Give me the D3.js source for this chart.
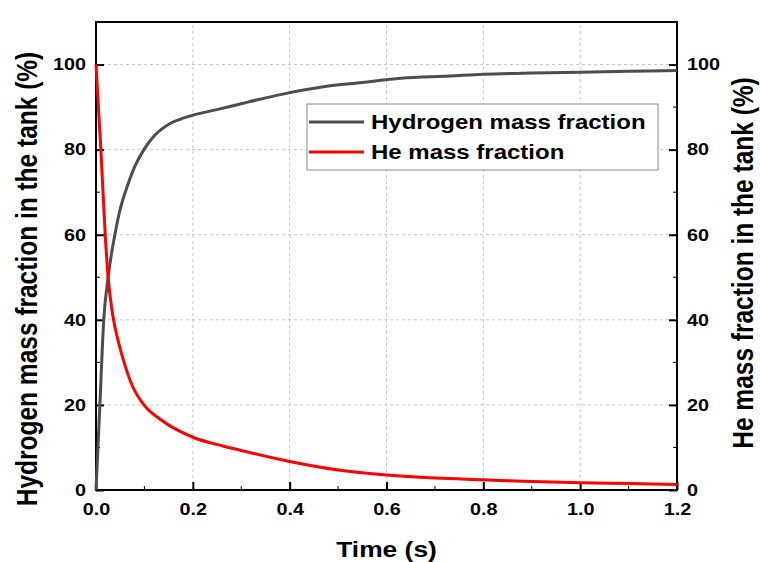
<!DOCTYPE html>
<html>
<head>
<meta charset="utf-8">
<script src="https://cdn.jsdelivr.net/npm/d3@7"></script>
<style>
  body { margin: 0; background: #fff; }
  svg text { font-family: "Liberation Sans", Arial, sans-serif; font-weight: bold; fill: #000; }
</style>
</head>
<body>
<div id="chart"></div>
<script>
// data
const h2Time  = [0, 0.008, 0.016, 0.025, 0.039, 0.05, 0.065, 0.08, 0.099, 0.12, 0.154, 0.18, 0.2, 0.25, 0.3, 0.4, 0.47, 0.55, 0.63, 0.73, 0.8, 0.9, 1.0, 1.1, 1.2];
const h2Value = [0, 20, 40, 50, 60, 66, 71.5, 76, 80, 83.2, 86.2, 87.4, 88.1, 89.4, 90.8, 93.4, 94.8, 95.8, 96.8, 97.3, 97.7, 98, 98.2, 98.4, 98.6];
const heTime  = [0, 0.005, 0.01, 0.0145, 0.019, 0.025, 0.034, 0.047, 0.058, 0.075, 0.099, 0.134, 0.2, 0.264, 0.3, 0.4, 0.5, 0.6, 0.7, 0.8, 0.9, 1.0, 1.1, 1.2];
const heValue = [100, 90, 80, 70, 60, 50, 41.5, 34.5, 30, 24.5, 20, 16.5, 12.4, 10.3, 9.3, 6.7, 4.7, 3.5, 2.8, 2.4, 2.0, 1.7, 1.5, 1.3];
const xTicks = [0, 0.2, 0.4, 0.6, 0.8, 1.0, 1.2];
const yTicks = [0, 20, 40, 60, 80, 100];
const seriesNames = ["Hydrogen mass fraction", "He mass fraction"];
const seriesColors = ["#4d4d4d", "#ff0000"];

const width = 760, height = 562;
const margin = { top: 22, right: 83, bottom: 72, left: 96 };
const stretch = 1.2; // text in the reference is wider than it is tall

const svg = d3.select("#chart").append("svg")
  .attr("width", width)
  .attr("height", height);

const x = d3.scaleLinear().domain([0, 1.2]).range([margin.left, width - margin.right]);
const y = d3.scaleLinear().domain([0, 110]).range([height - margin.bottom, margin.top]);

// grid
const grid = svg.append("g").attr("stroke", "#c6c6c6").attr("stroke-dasharray", "3,3").attr("stroke-width", 1);
grid.selectAll(".gx").data(xTicks.slice(1, -1)).enter().append("line")
  .attr("x1", d => x(d)).attr("x2", d => x(d))
  .attr("y1", y(0)).attr("y2", y(110));
grid.selectAll(".gy").data(yTicks.slice(1)).enter().append("line")
  .attr("x1", x(0)).attr("x2", x(1.2))
  .attr("y1", d => y(d)).attr("y2", d => y(d));

// axes (ticks pointing inward)
const xMinor = d3.range(0.1, 1.2, 0.2);
const yMinor = d3.range(10, 110, 20);

const xAxis = svg.append("g")
  .attr("transform", `translate(0,${y(0)})`)
  .call(d3.axisBottom(x).tickValues(xTicks).tickFormat(d3.format(".1f")).tickSizeInner(-8).tickSizeOuter(0).tickPadding(13));
xAxis.append("g").selectAll("line").data(xMinor).enter().append("line")
  .attr("x1", d => x(d)).attr("x2", d => x(d)).attr("y1", 0).attr("y2", -4).attr("stroke", "#000");

const yAxisL = svg.append("g")
  .attr("transform", `translate(${x(0)},0)`)
  .call(d3.axisLeft(y).tickValues(yTicks).tickSizeInner(-8).tickSizeOuter(0).tickPadding(10));
yAxisL.append("g").selectAll("line").data(yMinor).enter().append("line")
  .attr("y1", d => y(d)).attr("y2", d => y(d)).attr("x1", 0).attr("x2", 4).attr("stroke", "#000");

const yAxisR = svg.append("g")
  .attr("transform", `translate(${x(1.2)},0)`)
  .call(d3.axisRight(y).tickValues(yTicks).tickSizeInner(-8).tickSizeOuter(0).tickPadding(10));
yAxisR.append("g").selectAll("line").data(yMinor).enter().append("line")
  .attr("y1", d => y(d)).attr("y2", d => y(d)).attr("x1", 0).attr("x2", -4).attr("stroke", "#000");

svg.selectAll(".tick line").attr("stroke", "#000").attr("stroke-width", 2);
svg.selectAll(".tick text")
  .style("font-size", "16.5px").style("font-weight", "bold")
  .style("font-family", "'Liberation Sans', Arial, sans-serif")
  .attr("x", function() { return (+d3.select(this).attr("x") || 0) / stretch; })
  .attr("transform", `scale(${stretch},1)`);
svg.selectAll(".domain").remove();

// frame
svg.append("rect")
  .attr("x", x(0)).attr("y", y(110))
  .attr("width", x(1.2) - x(0)).attr("height", y(0) - y(110))
  .attr("fill", "none").attr("stroke", "#000").attr("stroke-width", 2);

// lines
const line = d3.line().x(d => x(d[0])).y(d => y(d[1])).curve(d3.curveMonotoneX);
const series = [
  d3.zip(h2Time, h2Value),
  d3.zip(heTime, heValue)
];
svg.append("g").selectAll("path").data(series).enter().append("path")
  .attr("d", d => line(d))
  .attr("fill", "none")
  .attr("stroke", (d, i) => seriesColors[i])
  .attr("stroke-width", 3);

// legend
const lg = svg.append("g").attr("transform", "translate(307,104)");
lg.append("rect").attr("width", 351).attr("height", 66)
  .attr("fill", "#fff").attr("stroke", "#8a8a8a").attr("stroke-width", 1);
seriesNames.forEach((name, i) => {
  const cy = 18 + i * 30;
  lg.append("line").attr("x1", 2).attr("x2", 57).attr("y1", cy).attr("y2", cy)
    .attr("stroke", seriesColors[i]).attr("stroke-width", 3);
  lg.append("text").attr("transform", `translate(64,${cy}) scale(${stretch},1)`).attr("dy", "0.36em")
    .style("font-size", "20px").text(name);
});

// axis titles
svg.append("text")
  .attr("transform", `translate(${(x(0) + x(1.2)) / 2},557) scale(${stretch},1)`)
  .attr("text-anchor", "middle").style("font-size", "22px")
  .text("Time (s)");
svg.append("text")
  .attr("transform", `translate(37,279) rotate(-90) scale(1,${stretch})`)
  .attr("text-anchor", "middle").style("font-size", "24.5px")
  .text("Hydrogen mass fraction in the tank (%)");
svg.append("text")
  .attr("transform", `translate(753,263) rotate(-90) scale(1,${stretch})`)
  .attr("text-anchor", "middle").style("font-size", "24.5px")
  .text("He mass fraction in the tank (%)");
</script>
</body>
</html>
